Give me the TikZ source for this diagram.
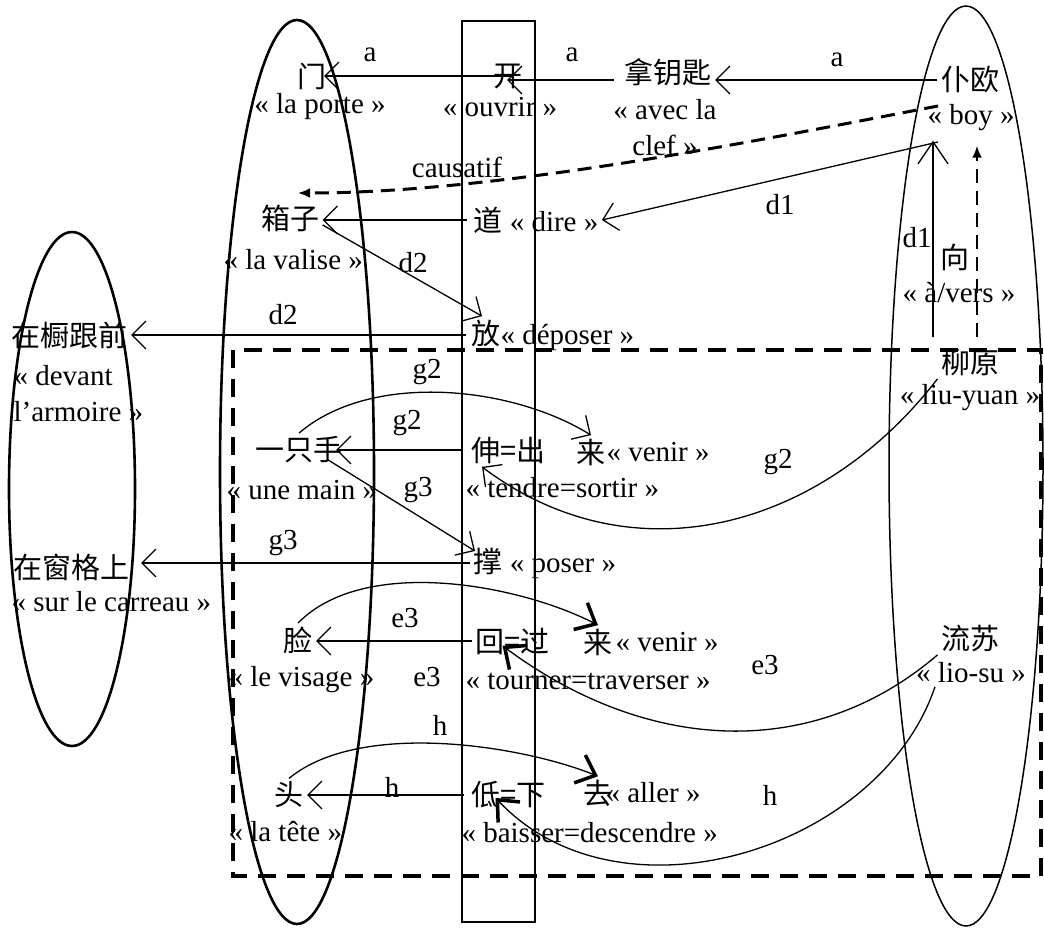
\documentclass[tikz,border=0pt]{standalone}
\usepackage{fontspec}
\setmainfont{Liberation Serif}
\newfontfamily\zh{Noto Sans CJK SC}
\usetikzlibrary{arrows.meta}

\tikzset{
	arr/.style={line width=1.3pt, -{Straight Barb[length=14pt, width=28pt, line width=1.3pt]}},
	boldarr/.style={line width=1.3pt, -{Straight Barb[length=17pt, width=30pt, line width=3.5pt]}},
	dasharr/.style={line width=3pt, dash pattern=on 14pt off 8pt, -{Latex[length=12pt, width=10pt]}},
	zone/.style={line width=2.6pt},
}

\begin{document}
\begin{tikzpicture}[x=1pt, y=-1pt, font=\fontsize{29}{36}\selectfont]
		\useasboundingbox (0,0) rectangle (1044,927);

		% --- ellipses, verb column, dashed frame ---
		\draw[zone] (72,489) ellipse [x radius=63pt, y radius=257pt];
		\draw[zone] (297,472) ellipse [x radius=77pt, y radius=452pt];
		\draw[line width=1.5pt] (966,466) ellipse [x radius=77pt, y radius=460pt];
		\draw[zone] (462,21) rectangle (535,922);
		\draw[line width=4pt, dash pattern=on 18pt off 11pt] (233,350) rectangle (1041,876);

		% --- objects (middle ellipse) ---
		\node (men) at (312,76) {\zh 门};
		\node (porte) at (320,107) {« la porte »};
		\node (xiangzi) at (290,218) {\zh 箱子};
		\node[anchor=west] (valise) at (220,260) {« la valise »};
		\node[anchor=west] (yizhishou) at (252,450) {\zh 一只手};
		\node[anchor=west] (unemain) at (223,490) {« une main »};
		\node (lian) at (298,640) {\zh 脸};
		\node[anchor=west] (visage) at (225,680) {« le visage »};
		\node (tou) at (289,795) {\zh 头};
		\node[anchor=west] (tete) at (225,832) {« la tête »};

		% --- places (left ellipse) ---
		\node[anchor=west] (chugui) at (8,335) {\zh 在橱跟前};
		\node[anchor=west, align=left] (devant) at (10,394) {« devant\\l’armoire »};
		\node[anchor=west] (chuangge) at (10,567) {\zh 在窗格上};
		\node[anchor=west] (carreau) at (8,602) {« sur le carreau »};

		% --- verbs (column) ---
		\node (kai) at (508,76) {\zh 开};
		\node (ouvrir) at (500,107) {« ouvrir »};
		\node[anchor=west] (dao) at (470,220) {{\zh 道} « dire »};
		\node[anchor=west] (fang) at (468,335) {{\zh 放}« déposer »};
		\node[anchor=west] (shen) at (468,450) {\zh 伸=出};
		\node (laiA) at (591,452) {\zh 来};
		\node[anchor=west] (venirA) at (603,452) {« venir »};
		\node[anchor=west] (tendre) at (462,488) {« tendre=sortir »};
		\node[anchor=west] (cheng) at (470,563) {{\zh 撑} « poser »};
		\node[anchor=west] (hui) at (472,641) {\zh 回=过};
		\node (laiB) at (598,642) {\zh 来};
		\node[anchor=west] (venirB) at (612,642) {« venir »};
		\node[anchor=west] (traverser) at (462,681) {« tourner=traverser »};
		\node[anchor=west] (di) at (468,795) {\zh 低=下};
		\node (qu) at (598,793) {\zh 去};
		\node[anchor=west] (aller) at (602,793) {« aller »};
		\node[anchor=west] (descendre) at (458,833) {« baisser=descendre »};

		% --- instrument and agents (right ellipse) ---
		\node (nayaoshi) at (668,72) {\zh 拿钥匙};
		\node[align=center] (avec) at (665,128) {« avec la\\clef »};
		\node (puou) at (970,80) {\zh 仆欧};
		\node (boy) at (971,118) {« boy »};
		\node (xiang) at (955,257) {\zh 向};
		\node (avers) at (959,293) {« à/vers »};
		\node (liuyuan) at (970,362) {\zh 柳原};
		\node (liuyuanG) at (970,398) {« liu-yuan »};
		\node (liusu) at (970,638) {\zh 流苏};
		\node (liosu) at (971,673) {« lio-su »};

		% --- relation labels ---
		\foreach \lx/\ly/\lt [count=\i] in {370/55/a, 572/55/a, 837/60/a, 457/167/causatif,
			780/205/d1, 413/263/d2, 283/315/d2, 917/238/d1, 427/372/g2, 407/423/g2,
			418/490/g3, 283/543/g3, 778/462/g2, 405/618/e3, 427/677/e3, 765/665/e3,
			440/725/h, 392/787/h, 770/795/h} {
			\node (lab\i) at (\lx,\ly) {\lt};
		}

		% --- verb -> object / place (horizontal) ---
		\foreach \a/\b/\s/\t in {kai/men/-21pt/-6pt, dao/xiangzi/3pt/0pt, fang/chugui/2pt/0pt,
			shen/yizhishou/5pt/-10pt, cheng/chuangge/0pt/8pt, hui/lian/0pt/0pt, di/tou/4pt/0pt} {
			\draw[arr, shorten <=\s, shorten >=\t] (\a.west) -- (\a.west -| \b.east);
		}

		% --- top row: boy -> key -> open ---
		\coordinate (keyStart) at ([yshift=-8pt]nayaoshi.west);
		\draw[arr, shorten <=7pt, shorten >=-19pt] (keyStart) -- (keyStart -| kai.east);
		\draw[arr] (puou.west) -- (puou.west -| nayaoshi.east);

		% --- causatif, d1, d2 ---
		\coordinate (causeEnd) at (298,193);
		\draw[dasharr] ([xshift=14pt,yshift=12pt]boy.west) .. controls (760,140) and (500,193) .. (causeEnd);
		\draw[arr] ([xshift=14pt,yshift=-24pt]boy.west) -- (dao.east);
		\draw[arr] ([yshift=10pt]xiangzi.south east) -- ([xshift=14pt]fang.north west);

		% --- vertical arrows towards the boy ---
		\draw[arr, shorten <=8pt, shorten >=6pt, -{Straight Barb[length=22pt, width=30pt, line width=1.3pt]}] ([xshift=-37pt]liuyuan.north) -- ([xshift=-38pt]boy.south);
		\draw[dasharr, line width=2.5pt, shorten <=8pt, shorten >=11pt] ([xshift=7pt]liuyuan.north) -- ([xshift=6pt]boy.south);

		% --- g2, g3 ---
		\draw[arr] (yizhishou.north) .. controls (370,372) and (510,385) .. (laiA.north);
		\draw[arr] (liuyuan.south west) .. controls (821,530) and (632,580) .. ([xshift=14pt]shen.south west);
		\draw[arr] ([xshift=-18pt,yshift=7pt]yizhishou.south east) -- ([xshift=5pt,yshift=12pt]cheng.west);

		% --- e3 ---
		\draw[boldarr] (lian.north) .. controls (365,555) and (520,585) .. (laiB.north);
		\draw[boldarr] (liusu.south west) .. controls (815,760) and (650,755) .. ([xshift=-10pt,yshift=12pt]hui.south);

		% --- h ---
		\draw[boldarr] (tou.north) .. controls (360,720) and (520,745) .. (qu.north);
		\draw[boldarr] ([xshift=-36pt]liosu.south) .. controls (880,850) and (620,930) .. ([xshift=-13pt,yshift=14pt]di.south);
	\end{tikzpicture}
\end{document}
